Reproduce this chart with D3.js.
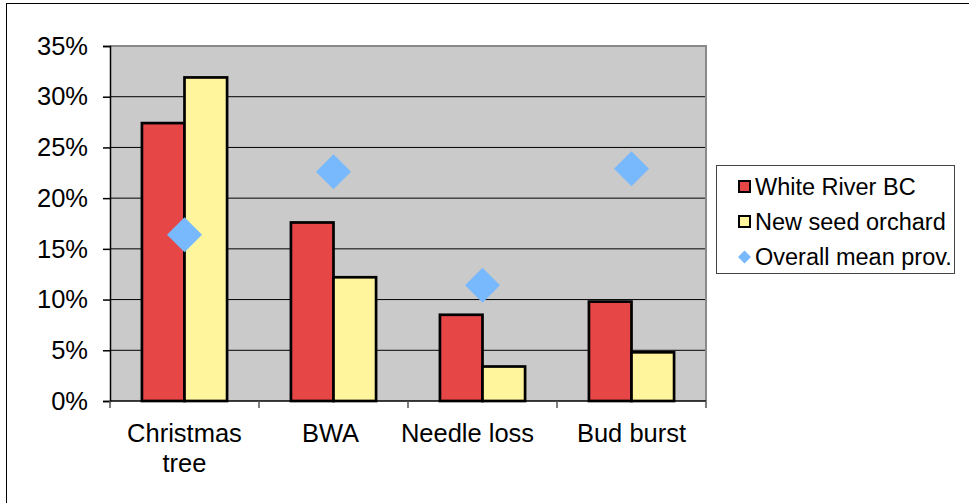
<!DOCTYPE html>
<html>
<head>
<meta charset="utf-8">
<script src="https://cdn.jsdelivr.net/npm/d3@7"></script>
<style>
  html, body { margin: 0; padding: 0; background: #fff; }
  svg { display: block; font-family: "Liberation Sans", Arial, sans-serif; }
</style>
</head>
<body>
<svg id="chart" width="969" height="503"></svg>
<script>
// Trait categories (x axis) and the share of trees for each source
const categories = ["Christmas tree", "BWA", "Needle loss", "Bud burst"];
const categoryLines = [["Christmas", "tree"], ["BWA"], ["Needle loss"], ["Bud burst"]];
const whiteRiver = [0.274, 0.176, 0.085, 0.098];
const newSeedOrchard = [0.319, 0.122, 0.034, 0.048];
const overallMean = [0.164, 0.226, 0.114, 0.229];
const yTicks = [0, 0.05, 0.10, 0.15, 0.20, 0.25, 0.30, 0.35];
const seriesNames = ["White River BC", "New seed orchard", "Overall mean prov."];

const colors = { red: "#e64646", yellow: "#fff59c", diamond: "#78b9fd", plot: "#cacaca" };

const svg = d3.select("#chart");
const plot = { left: 110, right: 706, top: 46, bottom: 401 };

// outer chart frame (runs past the right and bottom edges)
svg.append("rect")
  .attr("x", 6.5).attr("y", 3.5)
  .attr("width", 1000).attr("height", 600)
  .attr("fill", "#fff").attr("stroke", "#000").attr("stroke-width", 1);

const y = d3.scaleLinear().domain([0, 0.35]).range([plot.bottom, plot.top]);
const x = d3.scaleBand().domain(categories)
  .range([plot.left, plot.right])
  .paddingInner(1.5 / 3.5).paddingOuter(0.75 / 3.5);
const xSeries = d3.scaleBand().domain([0, 1]).range([0, x.bandwidth()]);
const xCat = d3.scalePoint().domain(categories).range([plot.left, plot.right]).padding(0.5);

// plot area background
svg.append("rect")
  .attr("x", plot.left).attr("y", plot.top)
  .attr("width", plot.right - plot.left).attr("height", plot.bottom - plot.top)
  .attr("fill", colors.plot);

// horizontal gridlines
svg.append("g").selectAll("line")
  .data(yTicks.filter(t => t > 0 && t < 0.35))
  .join("line")
  .attr("x1", plot.left).attr("x2", plot.right)
  .attr("y1", d => y(d)).attr("y2", d => y(d))
  .attr("stroke", "#000").attr("stroke-width", 1);

// plot area border (top and right)
svg.append("path")
  .attr("d", `M${plot.left},${plot.top} H${plot.right} V${plot.bottom}`)
  .attr("fill", "none").attr("stroke", "#8a8a8a").attr("stroke-width", 2);

// bars
const bars = [whiteRiver, newSeedOrchard];
const barFill = [colors.red, colors.yellow];
bars.forEach((vals, s) => {
  svg.append("g").selectAll("rect")
    .data(vals)
    .join("rect")
    .attr("x", (d, i) => x(categories[i]) + xSeries(s))
    .attr("y", d => y(d))
    .attr("width", xSeries.bandwidth())
    .attr("height", d => y(0) - y(d))
    .attr("fill", barFill[s])
    .attr("stroke", "#000").attr("stroke-width", 2.7);
});

// y axis
const yAxis = d3.axisLeft(y).tickValues(yTicks)
  .tickFormat(d => Math.round(d * 100) + "%")
  .tickSize(7).tickPadding(15);
const gy = svg.append("g").attr("transform", `translate(${plot.left},0)`).call(yAxis);
gy.select(".domain").attr("stroke", "#000").attr("stroke-width", 1.5);
gy.selectAll(".tick line").attr("stroke", "#000").attr("stroke-width", 1.5);
gy.selectAll(".tick text")
  .attr("font-size", 25.5).attr("fill", "#000")
  .attr("font-family", "'Liberation Sans', Arial, sans-serif");

// x axis: category boundary ticks
const boundaries = d3.range(categories.length + 1).map(i => plot.left + i * x.step());
svg.append("line")
  .attr("x1", plot.left).attr("x2", plot.right)
  .attr("y1", plot.bottom).attr("y2", plot.bottom)
  .attr("stroke", "#000").attr("stroke-width", 1.5);
svg.append("g").selectAll("line")
  .data(boundaries)
  .join("line")
  .attr("x1", d => d).attr("x2", d => d)
  .attr("y1", plot.bottom).attr("y2", plot.bottom + 7)
  .attr("stroke", "#555").attr("stroke-width", 1.5);

// category labels; the long single-line label is nudged left so it clears its neighbour
const labelShift = { "Needle loss": -15, "BWA": -3 };
const labels = svg.append("g").selectAll("text")
  .data(categories)
  .join("text")
  .attr("y", 442)
  .attr("text-anchor", "middle")
  .attr("font-size", 25.5).attr("fill", "#000");
labels.each(function(d, i) {
  const cx = xCat(d) + (labelShift[d] || 0);
  d3.select(this).selectAll("tspan")
    .data(categoryLines[i])
    .join("tspan")
    .attr("x", cx)
    .attr("dy", (t, j) => j === 0 ? 0 : 30)
    .text(t => t);
});

// overall mean markers (diamonds)
const diamond = (cx, cy, r) => `M${cx},${cy - r} L${cx + r},${cy} L${cx},${cy + r} L${cx - r},${cy} Z`;
svg.append("g").selectAll("path")
  .data(overallMean)
  .join("path")
  .attr("d", (d, i) => diamond(xCat(categories[i]), y(d), 17.5))
  .attr("fill", colors.diamond);

// legend
const lg = svg.append("g");
lg.append("rect")
  .attr("x", 716.5).attr("y", 165.5).attr("width", 238).attr("height", 108)
  .attr("fill", "#fff").attr("stroke", "#444").attr("stroke-width", 1);
const rowY = [187, 222, 257];
[colors.red, colors.yellow].forEach((c, i) => {
  lg.append("rect")
    .attr("x", 739).attr("y", rowY[i] - 6).attr("width", 11).attr("height", 11)
    .attr("fill", c).attr("stroke", "#000").attr("stroke-width", 2);
});
lg.append("path").attr("d", diamond(744.5, rowY[2], 6.5)).attr("fill", colors.diamond);
lg.selectAll("text")
  .data(seriesNames)
  .join("text")
  .attr("x", 755).attr("y", (d, i) => rowY[i])
  .attr("dy", "0.35em")
  .attr("font-size", 23.5).attr("fill", "#000")
  .text(d => d);
</script>
</body>
</html>
